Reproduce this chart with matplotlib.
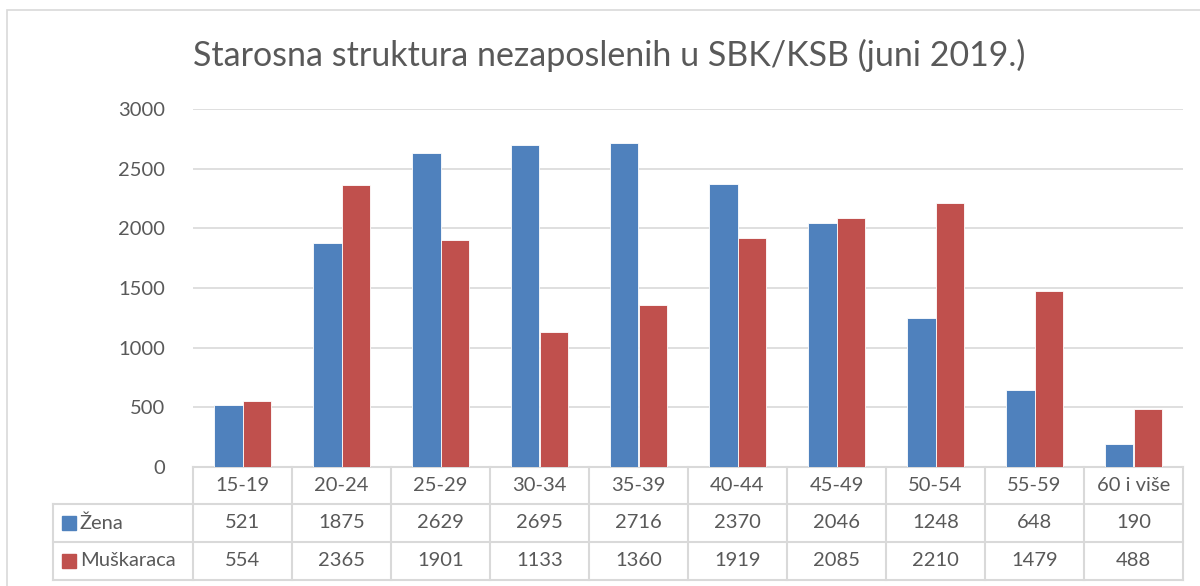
import numpy as np
import matplotlib
matplotlib.use('Agg')
import matplotlib.pyplot as plt
from matplotlib.patches import Rectangle

plt.rcParams['font.family'] = ['Lato', 'DejaVu Sans']

# Podaci
categories = ['15-19', '20-24', '25-29', '30-34', '35-39', '40-44', '45-49', '50-54', '55-59', '60 i više']
zena = [521, 1875, 2629, 2695, 2716, 2370, 2046, 1248, 648, 190]
muskarci = [554, 2365, 1901, 1133, 1360, 1919, 2085, 2210, 1479, 488]
series_names = ['Žena', 'Muškaraca']
yticks = [0, 500, 1000, 1500, 2000, 2500, 3000]

BLUE = '#4F81BD'
RED = '#C0504D'
TEXT = '#595959'
GRID = '#D9D9D9'

W, H = 1200, 586
fig = plt.figure(figsize=(W / 100, H / 100), dpi=100)

# okvir grafikona
fig.patches.append(Rectangle((7 / W, -0.01), 1.2, 1 - 10 / H + 0.01, transform=fig.transFigure,
                             fill=False, edgecolor=GRID, lw=1.2))

x0, x1, ytop, ybot = 193, 1183, 109, 467
ax = fig.add_axes([x0 / W, 1 - ybot / H, (x1 - x0) / W, (ybot - ytop) / H])

x = np.arange(len(categories))
bw = 0.283
ax.bar(x - bw / 2, zena, bw, color=BLUE, edgecolor='white', lw=0.6, zorder=3)
ax.bar(x + bw / 2, muskarci, bw, color=RED, edgecolor='white', lw=0.6, zorder=3)

ax.set_xlim(-0.5, len(categories) - 0.5)
ax.set_ylim(0, 3000)
ax.set_yticks(yticks)
ax.set_yticklabels([str(v) for v in yticks], fontsize=14.5, color=TEXT)
ax.tick_params(axis='y', length=0, pad=20)
ax.set_xticks([])
ax.grid(axis='y', color=GRID, lw=1.2, zorder=0)
for s in ax.spines.values():
    s.set_visible(False)

fig.text(609 / W, 1 - 55 / H, 'Starosna struktura nezaposlenih u SBK/KSB (juni 2019.)',
         ha='center', va='center', fontsize=24.5, color=TEXT)

# tabela podataka ispod grafikona
def fy(py):
    return (ybot - py) / (ybot - ytop)

tr = ax.get_xaxis_transform()
row_lines = [467, 504, 542, 580]
lbl_left = (53 - x0) / ((x1 - x0) / len(categories)) - 0.5
kw = dict(color=GRID, lw=1.5, clip_on=False, transform=tr)
# horizontalne linije
ax.plot([-0.5, len(categories) - 0.5], [fy(row_lines[0])] * 2, **kw)
for py in row_lines[1:]:
    ax.plot([lbl_left, len(categories) - 0.5], [fy(py)] * 2, **kw)
# vertikalne linije
for i in range(len(categories) + 1):
    ax.plot([i - 0.5, i - 0.5], [fy(row_lines[0]), fy(row_lines[-1])], **kw)
ax.plot([lbl_left, lbl_left], [fy(row_lines[1]), fy(row_lines[-1])], **kw)

fs = 14.5
for i, c in enumerate(categories):
    ax.text(i, fy((row_lines[0] + row_lines[1]) / 2), c, transform=tr, ha='center', va='center',
            fontsize=fs, color=TEXT)
    ax.text(i, fy((row_lines[1] + row_lines[2]) / 2), str(zena[i]), transform=tr, ha='center',
            va='center', fontsize=fs, color=TEXT)
    ax.text(i, fy((row_lines[2] + row_lines[3]) / 2), str(muskarci[i]), transform=tr, ha='center',
            va='center', fontsize=fs, color=TEXT)

for r, (name, col) in enumerate(zip(series_names, [BLUE, RED])):
    yc = fy((row_lines[r + 1] + row_lines[r + 2]) / 2)
    ax.add_patch(Rectangle((lbl_left + 0.09, yc - 0.02), 0.14, 0.04, transform=tr,
                           color=col, clip_on=False))
    ax.text(lbl_left + 0.27, yc, name, transform=tr, ha='left', va='center',
            fontsize=fs, color=TEXT)

fig.savefig('out.png', dpi=100)
